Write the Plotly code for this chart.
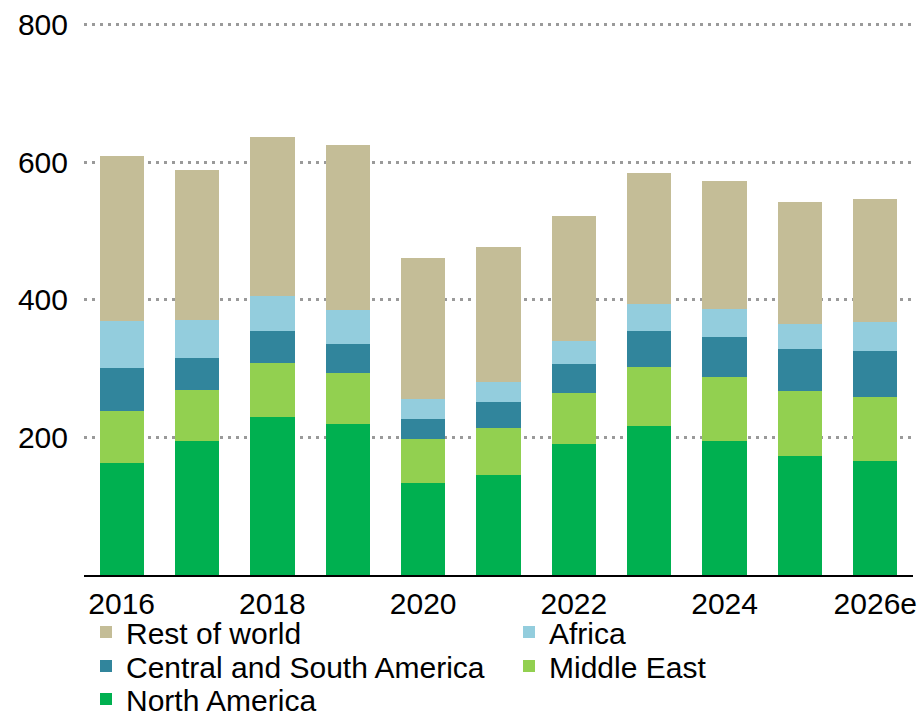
import plotly.graph_objects as go

# Categories (years) and stacked values per region
years = ["2016", "2017", "2018", "2019", "2020", "2021", "2022", "2023", "2024", "2025", "2026e"]
north_america = [163, 194, 230, 219, 133, 145, 190, 216, 194, 173, 165]
middle_east = [76, 75, 78, 75, 64, 68, 75, 86, 93, 95, 93]
central_south_america = [62, 47, 46, 41, 29, 38, 42, 53, 59, 61, 67]
africa = [68, 54, 52, 50, 30, 29, 33, 39, 40, 36, 42]
rest_of_world = [240, 219, 230, 240, 204, 197, 181, 190, 187, 177, 180]

x_tick_labels = ["2016", "2018", "2020", "2022", "2024", "2026e"]
y_tick_values = [200, 400, 600, 800]

FONT = "Liberation Sans, Arial, sans-serif"
FS = 30

W, H = 923, 714
ML, MR, MT, MB = 84, 10, 23, 139
PW = W - ML - MR
PH = H - MT - MB


def px_to_paper_x(px):
    return (px - ML) / PW


def px_to_paper_y(py):
    return (H - MB - py) / PH


# (name, values, colour, legend id, text-start x px, centre y px)
series = [
    ("North America", north_america, "#00B050", "legend5", 126, 699),
    ("Middle East", middle_east, "#92D050", "legend4", 549, 666),
    ("Central and South America", central_south_america, "#31859C", "legend3", 126, 666),
    ("Africa", africa, "#93CDDD", "legend2", 549, 632),
    ("Rest of world", rest_of_world, "#C4BD97", "legend", 126, 632),
]

fig = go.Figure()
legend_layout = {}
for name, vals, color, leg, tx, ty in series:
    fig.add_trace(go.Bar(
        x=years, y=vals, name=name, legend=leg,
        marker=dict(color=color, line=dict(width=0)),
        hoverinfo="x+y+name",
    ))
    legend_layout[leg] = dict(
        x=px_to_paper_x(tx - 40), y=px_to_paper_y(ty),
        xanchor="left", yanchor="middle",
        bgcolor="rgba(0,0,0,0)", borderwidth=0,
        font=dict(family=FONT, size=FS, color="#000000"),
        itemwidth=30,
    )

fig.update_layout(
    width=W, height=H,
    margin=dict(l=ML, r=MR, t=MT, b=MB, pad=0, autoexpand=False),
    barmode="stack",
    bargap=0.412,
    plot_bgcolor="white",
    paper_bgcolor="white",
    font=dict(family=FONT, size=FS, color="#000000"),
    showlegend=True,
    **legend_layout,
)

fig.update_xaxes(
    type="category",
    categoryorder="array", categoryarray=years,
    tickvals=x_tick_labels, ticktext=x_tick_labels,
    showline=True, linecolor="#000000", linewidth=2,
    showgrid=False, ticks="",
    ticklabelstandoff=1,
    tickfont=dict(family=FONT, size=FS, color="#000000"),
)

fig.update_yaxes(
    range=[0, 802],
    tickvals=y_tick_values,
    showgrid=True, gridcolor="#9a9a9a", gridwidth=2.5, griddash="2.5px,5.5px",
    zeroline=False, showline=False, ticks="",
    ticklabelstandoff=15,
    tickfont=dict(family=FONT, size=FS, color="#000000"),
)

fig.write_html("out.html")
